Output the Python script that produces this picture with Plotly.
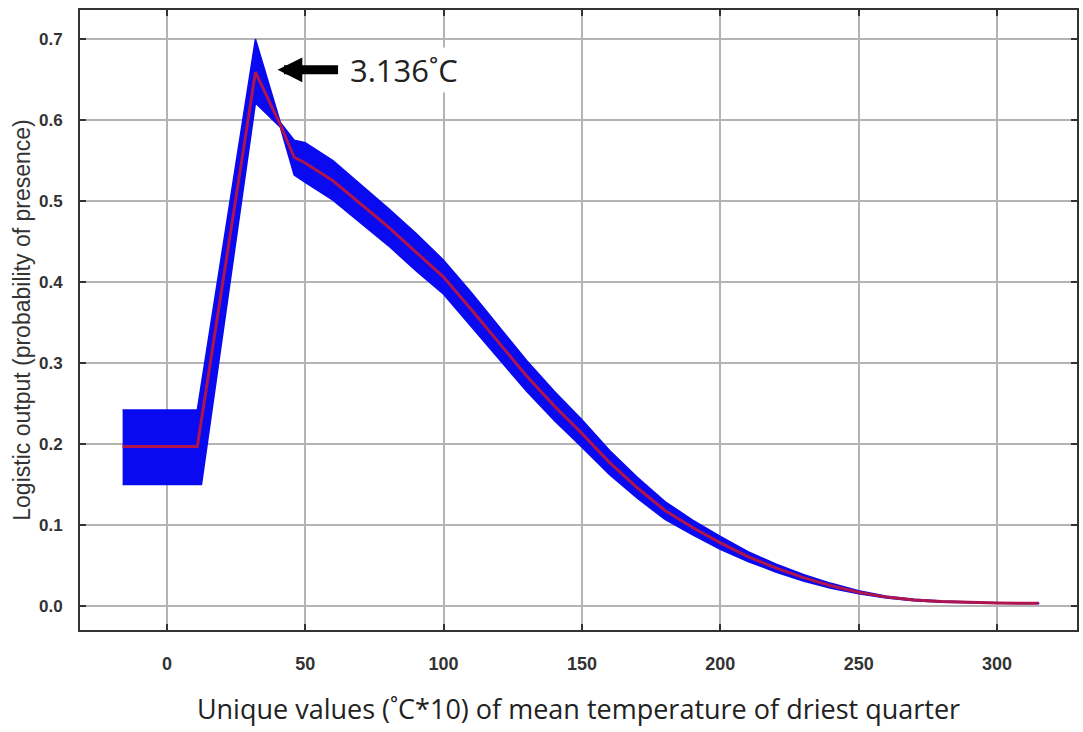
import plotly.graph_objects as go

# Response curve: mean and +/- SD band
x_vals = [-16, 11, 32, 41, 46, 50, 60, 70, 80, 90, 100, 110, 120, 130, 140, 150,
          160, 170, 180, 190, 200, 210, 220, 230, 240, 250, 260, 270, 280, 290, 300, 315]
mean_vals = [0.197, 0.197, 0.659, 0.594, 0.554, 0.547, 0.525, 0.497, 0.468, 0.437, 0.406,
             0.366, 0.325, 0.284, 0.247, 0.213, 0.177, 0.146, 0.118, 0.097, 0.078,
             0.061, 0.047, 0.035, 0.025, 0.017, 0.011, 0.0075, 0.0055, 0.0042, 0.0037, 0.0033]
upper_vals = [0.242, 0.242, 0.700, 0.597, 0.575, 0.572, 0.550, 0.521, 0.491, 0.460, 0.427,
              0.387, 0.345, 0.303, 0.265, 0.230, 0.192, 0.159, 0.129, 0.106, 0.086,
              0.067, 0.052, 0.039, 0.028, 0.019, 0.012, 0.0085, 0.0062, 0.0048, 0.0041, 0.0036]
lower_x = [-16, 12.5, 32, 41, 46, 50, 60, 70, 80, 90, 100, 110, 120, 130, 140, 150,
           160, 170, 180, 190, 200, 210, 220, 230, 240, 250, 260, 270, 280, 290, 300, 315]
lower_vals = [0.150, 0.150, 0.621, 0.591, 0.532, 0.523, 0.501, 0.473, 0.445, 0.414, 0.385,
              0.345, 0.305, 0.265, 0.229, 0.196, 0.162, 0.133, 0.107, 0.088, 0.070,
              0.055, 0.042, 0.031, 0.022, 0.015, 0.010, 0.0065, 0.0048, 0.0036, 0.0033, 0.0030]

x_ticks = [0, 50, 100, 150, 200, 250, 300]
y_ticks = [0.0, 0.1, 0.2, 0.3, 0.4, 0.5, 0.6, 0.7]
y_tick_text = ["0.0", "0.1", "0.2", "0.3", "0.4", "0.5", "0.6", "0.7"]

annot_x, annot_y = 40, 0.662
annot_text = "3.136˚C"

fig = go.Figure()

band_x = x_vals + lower_x[::-1]
band_y = upper_vals + lower_vals[::-1]
fig.add_trace(go.Scatter(
    x=band_x, y=band_y, fill="toself", mode="lines",
    line=dict(color="#0a0af0", width=1.5), fillcolor="#0a0af0",
    hoverinfo="skip", showlegend=False))

fig.add_trace(go.Scatter(
    x=x_vals, y=mean_vals, mode="lines",
    line=dict(color="#b0144c", width=3), showlegend=False))

# arrow
fig.add_annotation(x=annot_x, y=annot_y, xref="x", yref="y", text="",
                   showarrow=True, ax=62, ay=0, arrowhead=2, arrowsize=0.55,
                   arrowwidth=9, arrowcolor="black", standoff=0)
fig.add_annotation(x=annot_x, y=annot_y, xref="x", yref="y", text=annot_text,
                   showarrow=False, xshift=70, xanchor="left", yanchor="middle",
                   font=dict(family="Open Sans", size=31, color="#222222"),
                   bgcolor="white")

axis_common = dict(showline=True, linecolor="#333333", linewidth=2, mirror="ticks",
                   ticks="inside", ticklen=6, tickcolor="#333333", tickwidth=1.5,
                   showgrid=True, gridcolor="#b4b4b4", gridwidth=1.5, zeroline=False)

fig.update_xaxes(range=[-31.4, 328.9], tickvals=x_ticks,
                 tickfont=dict(family="Arial", size=18, color="#333333", weight="bold"),
                 ticklabelstandoff=16,
                 title=dict(text="Unique values (˚C*10) of mean temperature of driest quarter",
                            font=dict(family="Open Sans", size=27, color="#222222"),
                            standoff=28),
                 **axis_common)
fig.update_yaxes(range=[-0.0296, 0.7358], tickvals=y_ticks, ticktext=y_tick_text,
                 tickfont=dict(family="Arial", size=17, color="#333333", weight="bold"),
                 ticklabelstandoff=12,
                 title=dict(text="Logistic output (probability of presence)",
                            font=dict(family="Arial", size=23, color="#333333"),
                            standoff=2),
                 **axis_common)

fig.update_layout(width=1083, height=732, margin=dict(l=80, r=4, t=10, b=102),
                  paper_bgcolor="white", plot_bgcolor="white")

fig.write_html("out.html")
